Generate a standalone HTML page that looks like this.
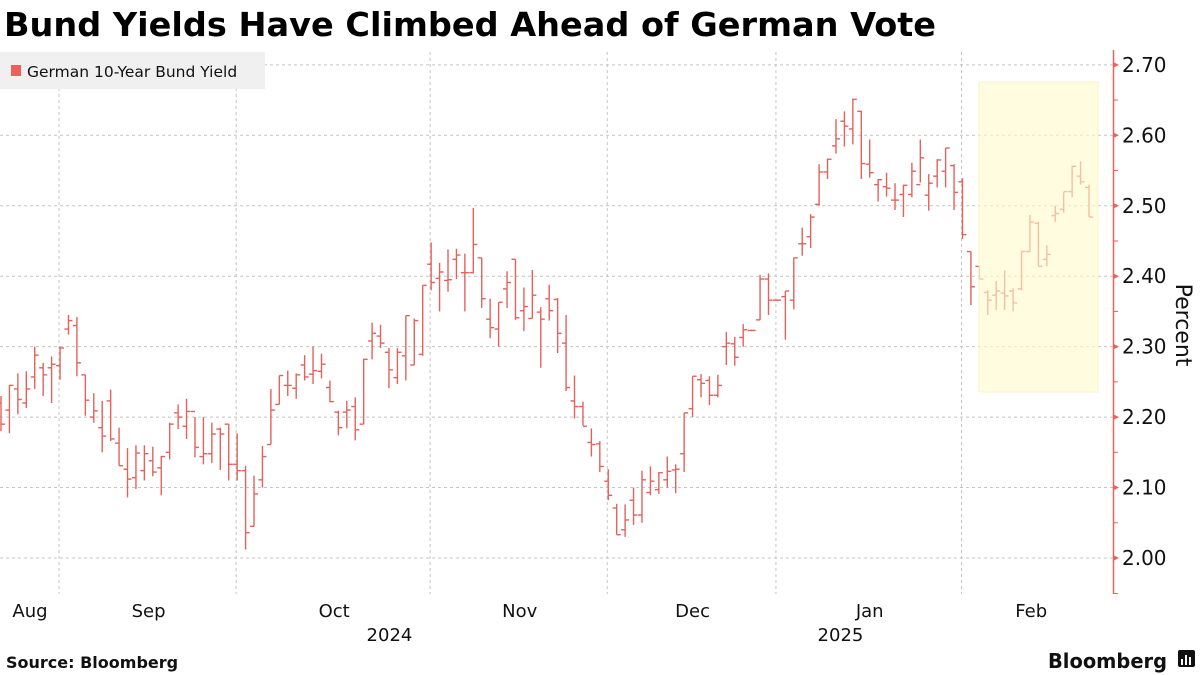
<!DOCTYPE html>
<html><head><meta charset="utf-8"><style>
html,body{margin:0;padding:0;background:#fff;}
svg{display:block;font-family:"DejaVu Sans","Liberation Sans",sans-serif;}
</style></head><body>
<svg id="chart" width="1200" height="675" viewBox="0 0 1200 675">
  <text x="4" y="36" font-size="33" font-weight="bold" textLength="932" lengthAdjust="spacingAndGlyphs">Bund Yields Have Climbed Ahead of German Vote</text>
  <g id="grid"></g>
  <g>
    <rect x="0" y="52" width="265" height="37" fill="#f0f0f0"/>
    <rect x="11" y="65" width="10" height="11" fill="#f0605a"/>
    <text x="27" y="77" font-size="15.5" fill="#111">German 10-Year Bund Yield</text>
  </g>
  <g id="bars"></g>
  <rect x="979" y="82" width="119" height="310" fill="rgba(255,250,205,0.62)" stroke="rgba(250,240,190,0.8)" stroke-width="1"/>
  <g id="yaxis"></g>
  <g id="xaxis"></g>
  <text transform="translate(1176,325) rotate(90)" text-anchor="middle" font-size="22" fill="#111">Percent</text>
  <text x="6" y="668" font-size="16" font-weight="bold" fill="#111">Source:  Bloomberg</text>
  <text x="1048" y="668" font-size="20" font-weight="bold" fill="#111" textLength="119" lengthAdjust="spacingAndGlyphs">Bloomberg</text>
  <g>
    <rect x="1178" y="650" width="17" height="17" rx="2" fill="#111"/>
    <rect x="1181" y="659" width="2" height="6" fill="#fff"/>
    <rect x="1185" y="655" width="2" height="10" fill="#fff"/>
    <rect x="1189" y="657" width="2" height="8" fill="#fff"/>
  </g>
</svg>
<script>
const highs=[2.23,2.246,2.262,2.265,2.30,2.277,2.286,2.30,2.345,2.342,2.26,2.234,2.223,2.239,2.185,2.156,2.16,2.16,2.158,2.145,2.192,2.218,2.226,2.20,2.20,2.192,2.185,2.19,2.177,2.131,2.117,2.159,2.24,2.259,2.266,2.262,2.288,2.30,2.29,2.252,2.209,2.223,2.228,2.283,2.334,2.331,2.298,2.298,2.344,2.34,2.387,2.448,2.419,2.438,2.439,2.432,2.497,2.426,2.368,2.363,2.407,2.424,2.384,2.409,2.356,2.388,2.369,2.345,2.259,2.222,2.184,2.166,2.126,2.077,2.076,2.10,2.124,2.13,2.122,2.144,2.133,2.206,2.258,2.261,2.258,2.26,2.321,2.314,2.332,2.324,2.402,2.404,2.367,2.379,2.426,2.469,2.488,2.559,2.567,2.623,2.634,2.652,2.635,2.594,2.538,2.547,2.532,2.53,2.561,2.594,2.545,2.566,2.582,2.559,2.539,2.435,2.414,2.38,2.393,2.408,2.383,2.436,2.487,2.477,2.444,2.50,2.519,2.557,2.563,2.53];
const lows=[2.18,2.177,2.204,2.213,2.24,2.23,2.22,2.253,2.317,2.258,2.202,2.192,2.15,2.166,2.131,2.086,2.098,2.11,2.116,2.089,2.14,2.183,2.169,2.143,2.133,2.135,2.125,2.11,2.11,2.012,2.045,2.10,2.161,2.218,2.23,2.226,2.252,2.247,2.255,2.221,2.174,2.184,2.167,2.19,2.282,2.298,2.241,2.247,2.252,2.274,2.287,2.38,2.35,2.378,2.396,2.35,2.404,2.355,2.312,2.30,2.355,2.338,2.322,2.34,2.27,2.337,2.291,2.237,2.198,2.188,2.144,2.122,2.082,2.033,2.03,2.047,2.05,2.089,2.091,2.10,2.092,2.122,2.20,2.228,2.217,2.228,2.274,2.273,2.30,2.322,2.338,2.345,2.365,2.31,2.353,2.429,2.44,2.50,2.538,2.574,2.584,2.587,2.538,2.54,2.506,2.513,2.494,2.484,2.512,2.533,2.493,2.526,2.526,2.494,2.453,2.359,2.396,2.345,2.352,2.352,2.35,2.38,2.434,2.414,2.414,2.477,2.49,2.512,2.53,2.484];
const opens=[2.22,2.21,2.24,2.22,2.257,2.27,2.27,2.273,2.325,2.33,2.26,2.20,2.185,2.223,2.163,2.126,2.114,2.124,2.138,2.128,2.15,2.206,2.187,2.208,2.144,2.148,2.183,2.19,2.133,2.124,2.045,2.111,2.161,2.218,2.245,2.241,2.274,2.261,2.265,2.242,2.207,2.207,2.215,2.19,2.308,2.315,2.292,2.256,2.287,2.274,2.289,2.417,2.397,2.394,2.424,2.405,2.405,2.426,2.339,2.325,2.382,2.424,2.351,2.34,2.349,2.368,2.367,2.305,2.223,2.215,2.164,2.162,2.109,2.071,2.04,2.082,2.061,2.093,2.097,2.111,2.125,2.148,2.212,2.253,2.252,2.231,2.30,2.304,2.313,2.323,2.338,2.396,2.366,2.371,2.366,2.446,2.456,2.502,2.548,2.585,2.62,2.609,2.634,2.559,2.53,2.527,2.508,2.516,2.516,2.53,2.515,2.542,2.549,2.557,2.534,2.435,2.414,2.377,2.373,2.376,2.379,2.382,2.435,2.475,2.424,2.486,2.495,2.52,2.542,2.526];
const closes=[2.19,2.245,2.225,2.24,2.288,2.26,2.275,2.298,2.337,2.277,2.224,2.209,2.173,2.169,2.131,2.112,2.149,2.148,2.122,2.144,2.19,2.20,2.208,2.157,2.148,2.176,2.176,2.133,2.124,2.036,2.091,2.144,2.21,2.259,2.245,2.26,2.257,2.266,2.275,2.222,2.185,2.21,2.182,2.282,2.319,2.305,2.267,2.292,2.344,2.337,2.387,2.391,2.406,2.395,2.43,2.405,2.445,2.368,2.327,2.363,2.391,2.341,2.357,2.373,2.339,2.351,2.319,2.242,2.215,2.187,2.161,2.13,2.089,2.033,2.054,2.061,2.111,2.109,2.121,2.123,2.126,2.206,2.258,2.248,2.231,2.245,2.305,2.285,2.324,2.323,2.396,2.366,2.366,2.379,2.426,2.446,2.484,2.548,2.566,2.595,2.613,2.651,2.56,2.547,2.537,2.525,2.508,2.529,2.549,2.568,2.532,2.565,2.582,2.519,2.459,2.385,2.396,2.366,2.379,2.372,2.362,2.435,2.477,2.414,2.431,2.489,2.52,2.556,2.534,2.484];
const yTicks=[2.00,2.10,2.20,2.30,2.40,2.50,2.60,2.70];
const monthLabels=["Aug","Sep","Oct","Nov","Dec","Jan","Feb"];
const monthStarts=[-7,7,28,51,72,92,114];
const yearLabels=["2024","2025"];
const yearStarts=[-7,92];

const NS="http://www.w3.org/2000/svg";
const x0=1, dx=8.434, nBars=highs.length;
function xs(i){return x0+i*dx;}
function ys(v){return 558-(v-2.0)*704.5;}
function mk(tag,attrs,parent){const e=document.createElementNS(NS,tag);for(const k in attrs)e.setAttribute(k,attrs[k]);parent.appendChild(e);return e;}
const grid=document.getElementById('grid'),bars=document.getElementById('bars'),ya=document.getElementById('yaxis'),xa=document.getElementById('xaxis');

yTicks.forEach((t,k)=>{
  const l=mk('line',{x1:0,x2:1113,y1:ys(t),y2:ys(t),stroke:'#c4c4c4','stroke-width':1,'stroke-dasharray':'3,3'},grid);
  
  
  const tx=mk('text',{x:1122,y:ys(t)+7,'font-size':20,fill:'#111'},ya);
  tx.textContent=t.toFixed(2);
  
  
  const ar=mk('path',{d:`M1113 ${ys(t)-3} L1119 ${ys(t)} L1113 ${ys(t)+3} Z`,fill:'#f0605a'},ya);
  
  
  if(k<yTicks.length-1){
    const mn=mk('line',{x1:1113,x2:1118,y1:ys(t+0.05),y2:ys(t+0.05),stroke:'#f0605a','stroke-width':1},ya);
    
    
  }
});
const ax=mk('line',{x1:1113.5,x2:1113.5,y1:50,y2:594,stroke:'#f0605a','stroke-width':1.5},ya);


const ax2=mk('line',{x1:1113,x2:1118,y1:593.5,y2:593.5,stroke:'#f0605a','stroke-width':1},ya);



monthStarts.forEach((s,k)=>{
  const gx=xs(s)-1;
  if(s>0){
    const l=mk('line',{x1:gx,x2:gx,y1:52,y2:594,stroke:'#c4c4c4','stroke-width':1,'stroke-dasharray':'3,3'},grid);
    
    
  }
  const e=k<monthStarts.length-1?monthStarts[k+1]:nBars+1;
  const cx=(Math.max(xs(s),0)+Math.min(xs(e),1100))/2;
  const t=mk('text',{x:k==0?30:cx,y:617,'font-size':18,'text-anchor':'middle',fill:'#111'},xa);
  t.textContent=monthLabels[k];
  
  
});
yearLabels.forEach((y,k)=>{
  const s=yearStarts[k],e=k<yearStarts.length-1?yearStarts[k+1]:nBars+12;
  const t=mk('text',{x:(Math.max(xs(s),0)+Math.min(xs(e),1100))/2-(k==0?-1:98),y:641,'font-size':18,'text-anchor':'middle',fill:'#111'},xa);
  t.textContent=y;
  
  
});

for(let i=0;i<nBars;i++){
  const x=xs(i);
  const g=mk('g',{stroke:'#e3625c','stroke-width':1.4},bars);
  
  
  mk('line',{x1:x,x2:x,y1:ys(highs[i]),y2:ys(lows[i])},g);
  mk('line',{x1:x-4,x2:x,y1:ys(opens[i]),y2:ys(opens[i])},g);
  mk('line',{x1:x,x2:x+4,y1:ys(closes[i]),y2:ys(closes[i])},g);
}
</script>
</body></html>
